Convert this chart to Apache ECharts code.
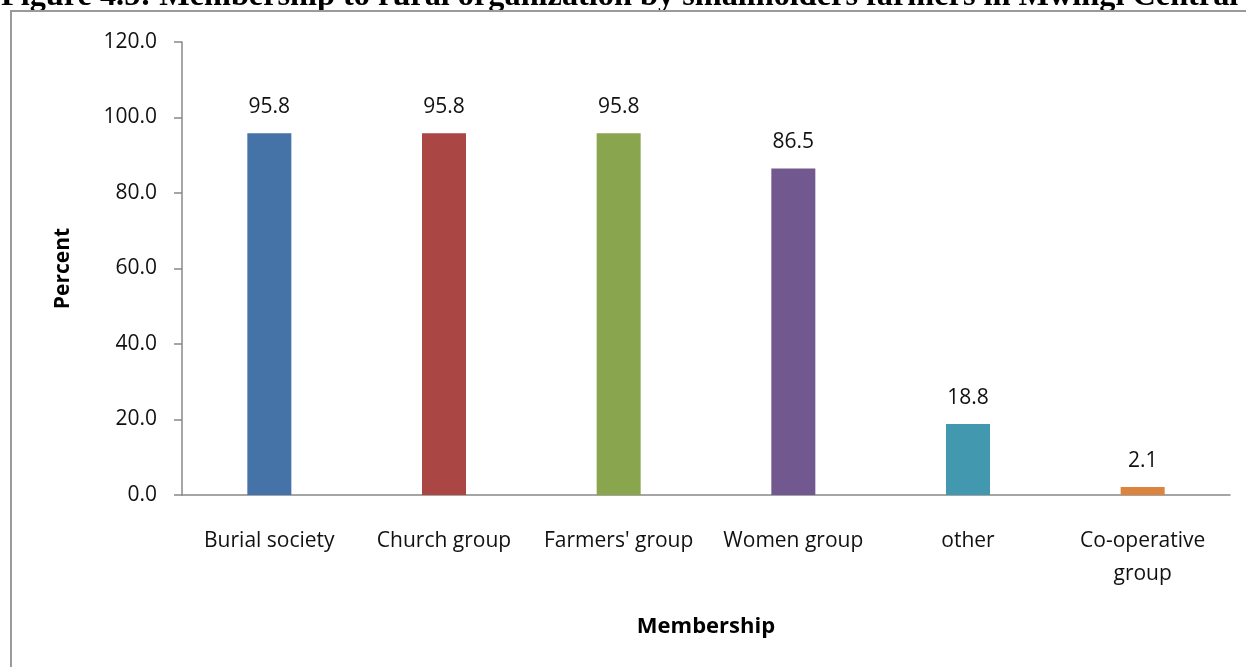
<!DOCTYPE html>
<html>
<head>
<meta charset="utf-8">
<script src="https://cdn.jsdelivr.net/npm/echarts@6/dist/echarts.min.js"></script>
<style>
  html, body { margin: 0; padding: 0; background: #fff; }
  #chart { width: 1246px; height: 667px; }
</style>
</head>
<body>
<div id="chart"></div>
<script>
// Membership categories and percentages
const categories = ['Burial society', 'Church group', "Farmers' group", 'Women group', 'other', 'Co-operative\ngroup'];
const percentValues = [95.8, 95.8, 95.8, 86.5, 18.8, 2.1];
const barColors = ['#4572A7', '#AA4643', '#89A54E', '#71588F', '#4198AF', '#DB843D'];
const yTicks = { min: 0, max: 120, interval: 20 };

const chart = echarts.init(document.getElementById('chart'), null, { renderer: 'canvas' });

const font = '"Open Sans", Lato, sans-serif';

chart.setOption({
  animation: false,
  backgroundColor: '#ffffff',
  graphic: [
    // figure caption, partly above the top edge
    {
      type: 'text',
      left: 1,
      top: -19,
      style: {
        text: 'Figure 4.5: Membership to rural organization by smallholders farmers in Mwingi Central',
        font: 'bold 32.3px "Liberation Serif", "Times New Roman", serif',
        fill: '#000'
      }
    },
    // frame around the chart area
    {
      type: 'polyline',
      shape: { points: [[11, 700], [11, 11], [1260, 11]] },
      style: { stroke: '#9a9a9a', lineWidth: 2, fill: null }
    }
  ],
  grid: { left: 182, right: 16, top: 42, bottom: 172 },
  xAxis: {
    type: 'category',
    data: categories,
    name: 'Membership',
    nameLocation: 'middle',
    nameGap: 121,
    nameTextStyle: { fontFamily: font, fontSize: 22, fontWeight: 'bold', color: '#000' },
    axisLine: { lineStyle: { color: '#888', width: 1.5 } },
    axisTick: { show: false },
    axisLabel: {
      interval: 0,
      margin: 30,
      fontFamily: font,
      fontSize: 21,
      color: '#111',
      lineHeight: 33
    }
  },
  yAxis: {
    type: 'value',
    min: yTicks.min,
    max: yTicks.max,
    interval: yTicks.interval,
    name: 'Percent',
    nameLocation: 'middle',
    nameGap: 108,
    nameRotate: 90,
    nameTextStyle: { fontFamily: font, fontSize: 21, fontWeight: 'bold', color: '#000' },
    axisLine: { show: true, lineStyle: { color: '#888', width: 1.5 } },
    axisTick: { show: true, length: 8, lineStyle: { color: '#888', width: 1.5 } },
    splitLine: { show: false },
    axisLabel: {
      margin: 25,
      fontFamily: font,
      fontSize: 21,
      color: '#111',
      formatter: v => v.toFixed(1)
    }
  },
  series: [{
    type: 'bar',
    barWidth: 44,
    data: percentValues.map((v, i) => ({ value: v, itemStyle: { color: barColors[i] } })),
    label: {
      show: true,
      position: 'top',
      distance: 16,
      fontFamily: font,
      fontSize: 21,
      color: '#111',
      formatter: p => p.value.toFixed(1)
    }
  }]
});
</script>
</body>
</html>
